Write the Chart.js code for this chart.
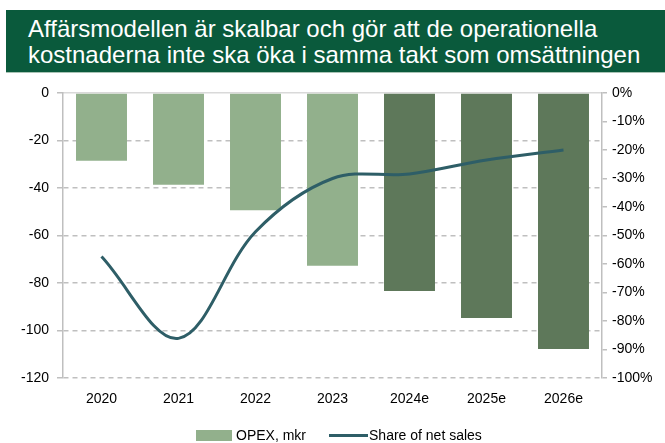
<!doctype html>
<html lang="sv">
  <head>
    <meta charset="UTF-8" />
    <title>OPEX</title>
    <script src="https://cdn.jsdelivr.net/npm/chart.js"></script>
    <style>
      body { margin: 0; background: #fff; }
      .wrap { position: relative; width: 665px; height: 443px; overflow: hidden; font-family: "Liberation Sans", Arial, sans-serif; }
      .titel {
        position: absolute; left: 6px; top: 10px; width: 659px; height: 63px;
        background: #0a5a3c; color: #fff; font-size: 24px; line-height: 26px;
        padding: 6px 0 0 22px; box-sizing: border-box; z-index: 2;
        border-bottom: 1px solid #a9c3b5;
      }
      canvas { position: absolute; left: 0; top: 0; }
      .legend { position: absolute; left: 196px; top: 427px; display: flex; align-items: center; font-size: 14px; color: #000; }
      .legend .box { width: 36px; height: 11px; margin-right: 4px; }
      .legend .ln { width: 39px; height: 3px; margin-left: 23px; margin-right: 1px; }
    </style>
  </head>
  <body>
    <div class="wrap">
      <div class="titel">Affärsmodellen är skalbar och gör att de operationella<br />kostnaderna inte ska öka i samma takt som omsättningen</div>
      <canvas id="opexChart" width="665" height="443"></canvas>
      <div class="legend" id="legenda"></div>
    </div>

    <script>
      // data
      const years = ["2020", "2021", "2022", "2023", "2024e", "2025e", "2026e"];
      const opex = [-28.5, -38.6, -49.4, -72.7, -83.4, -94.7, -107.8];
      const shareOfSales = [-0.574, -0.861, -0.487, -0.30, -0.284, -0.235, -0.20];
      const leftTicks = [0, -20, -40, -60, -80, -100, -120];

      const ljus = "#92b08c";
      const mork = "#5e785a";
      const linje = "#2e5e67";
      const gra = "#bfbfbf";

      const barColors = years.map((y) => (y.endsWith("e") ? mork : ljus));

      const data = {
        labels: years,
        datasets: [
          {
            type: "bar",
            label: "OPEX, mkr",
            data: opex,
            backgroundColor: barColors,
            legendColor: ljus,
            yAxisID: "y",
            categoryPercentage: 0.662,
            barPercentage: 1,
            order: 1,
          },
          {
            type: "line",
            label: "Share of net sales",
            data: shareOfSales,
            borderColor: linje,
            legendColor: linje,
            borderWidth: 3,
            pointRadius: 0,
            tension: 0.35,
            yAxisID: "y2",
            order: 0,
          },
        ],
      };

      const font = { family: "'Liberation Sans', Arial, sans-serif", size: 14 };

      const chart = new Chart(document.getElementById("opexChart"), {
        type: "bar",
        data: data,
        options: {
          responsive: false,
          animation: false,
          layout: { padding: { top: 93, left: 0, right: 0, bottom: 0 } },
          plugins: { legend: { display: false }, tooltip: { enabled: false } },
          scales: {
            x: {
              position: "bottom",
              grid: { display: false },
              border: { display: false },
              ticks: { color: "#000", font: font, padding: 5 },
              afterFit: (s) => { s.height = 65; },
            },
            xTop: {
              type: "category",
              position: "top",
              grid: { display: false, drawTicks: false },
              border: { display: true, color: "#d9d9d9", width: 1.5 },
              ticks: { display: false },
              afterFit: (s) => { s.height = 0; },
            },
            y: {
              position: "left",
              min: -120,
              max: 0,
              afterBuildTicks: (s) => { s.ticks = leftTicks.map((v) => ({ value: v })); },
              ticks: { color: "#000", font: font, padding: 8 },
              grid: {
                color: (c) => (c.tick && c.tick.value === 0 ? "rgba(0,0,0,0)" : gra),
                lineWidth: 1.5,
                tickLength: 6,
                tickColor: gra,
                tickBorderDash: [],
              },
              border: { color: gra, width: 1.5, dash: [5, 4] },
              afterFit: (s) => { s.width = 63; },
            },
            y2: {
              position: "right",
              min: -1,
              max: 0,
              ticks: {
                stepSize: 0.1,
                color: "#000",
                font: font,
                padding: 5,
                callback: (v) => Math.round(v * 100) + "%",
              },
              grid: { drawOnChartArea: false, tickLength: 5, tickColor: gra, lineWidth: 1.5 },
              border: { color: gra, width: 1.5 },
              afterFit: (s) => { s.width = 63; },
            },
          },
        },
      });

      // legend i html
      const legenda = document.getElementById("legenda");
      chart.data.datasets.forEach((ds) => {
        const mark = document.createElement("span");
        mark.className = ds.type === "bar" ? "box" : "ln";
        mark.style.background = ds.legendColor;
        const txt = document.createElement("span");
        txt.textContent = ds.label;
        legenda.appendChild(mark);
        legenda.appendChild(txt);
      });
    </script>
  </body>
</html>
